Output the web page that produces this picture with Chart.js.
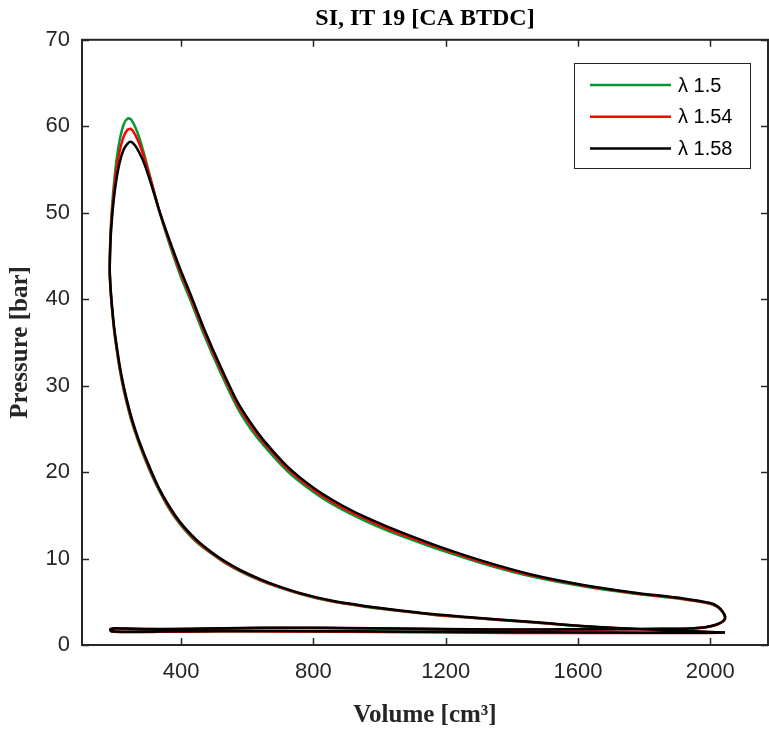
<!DOCTYPE html>
<html>
<head>
<meta charset="utf-8">
<script src="https://cdn.jsdelivr.net/npm/chart.js@4.4.1/dist/chart.umd.min.js"></script>
<style>
  html, body { margin: 0; padding: 0; background: #fff; }
</style>
</head>
<body>
<canvas id="pv" width="769" height="731"></canvas>
<script>
// cycle volume [cm3]: compression, combustion/expansion, blowdown/exhaust, intake
const volume = [
  2045, 1950, 1850, 1767, 1662, 1560, 1465, 1360, 1264, 1160, 1062, 950, 850, 760, 700, 640, 578, 530,
  490, 448, 410, 380, 355, 332, 312, 290, 270, 252, 238, 226, 215, 206, 198, 192, 187, 184,
  186, 190, 196, 204, 214, 226, 238, 248, 260, 274, 290, 310, 335, 365, 397, 432, 470, 518,
  569, 610, 649, 720, 800, 875, 951, 1020, 1092, 1183, 1314, 1465, 1616, 1767, 1919, 2000, 2022, 2038, 2045,
  2043, 2032, 2012, 1985, 1950, 1900, 1800, 1650, 1500, 1350, 1200, 1050, 900, 780, 680, 580,
  480, 380, 290, 230, 195, 185,
  190, 240, 330, 450, 600, 800, 1000, 1200, 1400, 1600, 1800, 2000, 2045
]

// pressure [bar]
const pLambda150 = [
  1.42, 1.55, 1.7, 1.84, 2.04, 2.3, 2.6, 2.89, 3.18, 3.51, 3.92, 4.46, 5.08, 5.9, 6.6, 7.45, 8.52, 9.55,
  10.6, 11.85, 13.35, 14.8, 16.3, 17.95, 19.55, 21.55, 23.55, 25.6, 27.55, 29.5, 31.65, 33.85, 36.1, 38.35, 40.7, 43.1,
  47.4, 50.2, 53.1, 56.0, 58.4, 60.2, 60.9, 60.8, 60.0, 58.6, 56.5, 53.6, 50.0, 46.3, 42.8, 39.5, 35.8, 31.6,
  27.5, 25.0, 23.1, 20.15, 17.7, 15.9, 14.45, 13.3, 12.25, 11.0, 9.4, 7.88, 6.78, 5.95, 5.28, 4.77, 4.4, 3.8, 3.25,
  2.88, 2.55, 2.25, 2.03, 1.92, 1.85, 1.83, 1.79, 1.77, 1.77, 1.81, 1.87, 1.93, 1.96, 1.96, 1.93,
  1.87, 1.83, 1.83, 1.87, 1.89, 1.77,
  1.57, 1.51, 1.54, 1.59, 1.6, 1.58, 1.54, 1.5, 1.46, 1.43, 1.41, 1.41, 1.42
]
const pLambda154 = [
  1.43, 1.56, 1.72, 1.86, 2.06, 2.33, 2.63, 2.92, 3.21, 3.54, 3.96, 4.5, 5.12, 5.95, 6.66, 7.52, 8.6, 9.65,
  10.7, 11.97, 13.48, 14.95, 16.45, 18.1, 19.72, 21.72, 23.72, 25.8, 27.76, 29.72, 31.87, 34.07, 36.3, 38.53, 40.85, 43.2,
  47.0, 49.6, 52.3, 54.9, 57.1, 58.8, 59.6, 59.7, 59.1, 57.9, 56.1, 53.5, 50.1, 46.6, 43.2, 39.9, 36.2, 32.0,
  27.9, 25.4, 23.45, 20.45, 17.95, 16.15, 14.7, 13.52, 12.45, 11.2, 9.55, 8.0, 6.88, 6.02, 5.33, 4.81, 4.44, 3.83, 3.28,
  2.9, 2.57, 2.26, 2.04, 1.93, 1.86, 1.84, 1.8, 1.78, 1.78, 1.82, 1.88, 1.94, 1.97, 1.97, 1.94,
  1.88, 1.84, 1.84, 1.88, 1.9, 1.78,
  1.56, 1.5, 1.52, 1.57, 1.58, 1.55, 1.5, 1.45, 1.4, 1.38, 1.38, 1.4, 1.43
]
const pLambda158 = [
  1.45, 1.58, 1.74, 1.88, 2.08, 2.35, 2.66, 2.95, 3.24, 3.58, 4.0, 4.55, 5.17, 6.0, 6.72, 7.6, 8.7, 9.75,
  10.8, 12.1, 13.6, 15.1, 16.6, 18.2, 19.9, 21.9, 23.9, 26.0, 28.0, 29.95, 32.1, 34.3, 36.5, 38.7, 41.0, 43.3,
  46.5, 49.0, 51.5, 53.8, 55.8, 57.3, 58.0, 58.2, 57.8, 56.9, 55.5, 53.2, 50.1, 46.8, 43.5, 40.2, 36.5, 32.3,
  28.2, 25.7, 23.7, 20.7, 18.2, 16.4, 14.9, 13.75, 12.65, 11.35, 9.7, 8.1, 6.95, 6.08, 5.38, 4.85, 4.48, 3.86, 3.3,
  2.92, 2.6, 2.28, 2.06, 1.95, 1.88, 1.86, 1.82, 1.8, 1.8, 1.84, 1.9, 1.96, 2.0, 2.0, 1.96,
  1.9, 1.86, 1.86, 1.9, 1.92, 1.8,
  1.58, 1.52, 1.55, 1.6, 1.62, 1.6, 1.56, 1.52, 1.48, 1.45, 1.42, 1.42, 1.45
]

const seriesLabels = ['λ 1.5', 'λ 1.54', 'λ 1.58']
const xTicks = [400, 800, 1200, 1600, 2000]
const yTicks = [0, 10, 20, 30, 40, 50, 60, 70]

const colors = ['#009933', '#ff0000', '#000000']
const axisColor = '#262626'

const toPoints = (p) => volume.map((v, i) => ({ x: v, y: p[i] }))

// MATLAB style box with inward ticks on all four sides
const boxTicks = {
  id: 'boxTicks',
  afterDatasetsDraw (chart) {
    const { ctx, chartArea: a, scales } = chart
    const len = 7
    ctx.save()
    ctx.strokeStyle = axisColor
    ctx.lineWidth = 1.5
    ctx.beginPath()
    scales.x.ticks.forEach(t => {
      const px = Math.round(scales.x.getPixelForValue(t.value)) + 0.5
      ctx.moveTo(px, a.bottom); ctx.lineTo(px, a.bottom - len)
      ctx.moveTo(px, a.top); ctx.lineTo(px, a.top + len)
    })
    scales.y.ticks.forEach(t => {
      const py = Math.round(scales.y.getPixelForValue(t.value)) + 0.5
      ctx.moveTo(a.left, py); ctx.lineTo(a.left + len, py)
      ctx.moveTo(a.right, py); ctx.lineTo(a.right - len, py)
    })
    ctx.stroke()
    ctx.lineWidth = 2
    ctx.strokeRect(a.left, a.top, a.right - a.left, a.bottom - a.top)
    ctx.restore()
  }
}

// boxed legend in the upper right corner
const boxLegend = {
  id: 'boxLegend',
  afterDraw (chart) {
    const { ctx } = chart
    const x0 = 574.5, y0 = 63.5, w = 176, h = 105
    ctx.save()
    ctx.fillStyle = '#fff'
    ctx.fillRect(x0, y0, w, h)
    ctx.strokeStyle = axisColor
    ctx.lineWidth = 1
    ctx.strokeRect(x0, y0, w, h)
    ctx.font = '20px "Liberation Sans", Arial, sans-serif'
    ctx.textBaseline = 'middle'
    chart.data.datasets.forEach((ds, i) => {
      const yy = 85 + i * 31.7
      ctx.strokeStyle = ds.borderColor
      ctx.lineWidth = 2.5
      ctx.beginPath()
      ctx.moveTo(590, yy); ctx.lineTo(671, yy)
      ctx.stroke()
      ctx.fillStyle = '#000'
      ctx.fillText(ds.label, 678, yy + 1)
    })
    ctx.restore()
  }
}

new Chart(document.getElementById('pv'), {
  type: 'scatter',
  data: {
    datasets: [
      { label: seriesLabels[0], data: toPoints(pLambda150), borderColor: colors[0], order: 2 },
      { label: seriesLabels[1], data: toPoints(pLambda154), borderColor: colors[1], order: 1 },
      { label: seriesLabels[2], data: toPoints(pLambda158), borderColor: colors[2], order: 0 }
    ]
  },
  options: {
    responsive: false,
    animation: false,
    devicePixelRatio: 1,
    showLine: true,
    elements: {
      point: { radius: 0, hoverRadius: 0 },
      line: { borderWidth: 2.5, tension: 0.25, fill: false }
    },
    layout: { padding: { top: 0, right: 1, bottom: 0, left: 0 } },
    plugins: {
      legend: { display: false },
      tooltip: { enabled: false },
      title: {
        display: true,
        text: 'SI, IT 19 [CA BTDC]',
        fullSize: false,
        color: '#000',
        font: { family: '"Liberation Serif", "Times New Roman", serif', size: 24, weight: 'bold' },
        padding: { top: 4, bottom: 7 }
      }
    },
    scales: {
      x: {
        type: 'linear',
        min: 100,
        max: 2175,
        afterBuildTicks: (s) => { s.ticks = xTicks.map(v => ({ value: v })) },
        afterFit: (s) => { s.height = 86 },
        grid: { display: false, drawTicks: false },
        border: { display: false },
        ticks: {
          color: axisColor,
          padding: 14,
          callback: (v) => String(v),
          font: { family: '"Liberation Sans", Arial, sans-serif', size: 22 }
        },
        title: {
          display: true,
          text: 'Volume [cm³]',
          color: '#262626',
          font: { family: '"Liberation Serif", "Times New Roman", serif', size: 25, weight: 'bold' },
          padding: { top: 0, bottom: 0 }
        }
      },
      y: {
        type: 'linear',
        min: 0,
        max: 70,
        afterBuildTicks: (s) => { s.ticks = yTicks.map(v => ({ value: v })) },
        afterFit: (s) => { s.width = 82 },
        grid: { display: false, drawTicks: false },
        border: { display: false },
        ticks: {
          color: axisColor,
          padding: 12,
          font: { family: '"Liberation Sans", Arial, sans-serif', size: 22 }
        },
        title: {
          display: true,
          text: 'Pressure [bar]',
          color: '#262626',
          font: { family: '"Liberation Serif", "Times New Roman", serif', size: 25, weight: 'bold' },
          padding: { top: 6, bottom: 0 }
        }
      }
    }
  },
  plugins: [boxTicks, boxLegend]
})
</script>
</body>
</html>
